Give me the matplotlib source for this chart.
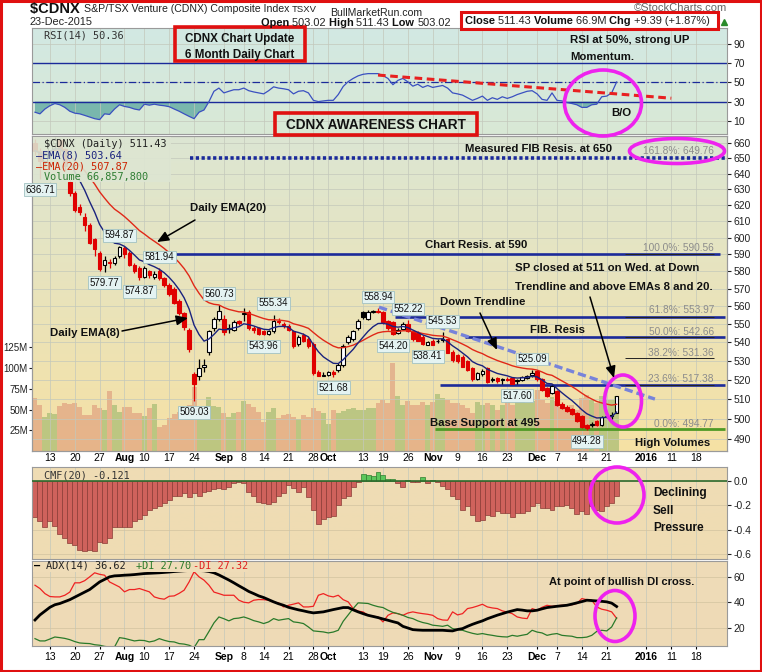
import matplotlib
matplotlib.use("Agg")
import matplotlib.pyplot as plt
from matplotlib.patches import Rectangle, Ellipse
from matplotlib.ticker import NullLocator, NullFormatter
from matplotlib.colors import to_rgb
import numpy as np
import pandas as pd

plt.rcParams['font.family'] = ['Liberation Sans', 'DejaVu Sans']

# ---------------- data ----------------
first_day = "2015-07-08"
cal_end = "2016-01-29"
holidays = ["2015-08-03", "2015-09-07", "2015-10-12", "2015-12-25", "2016-01-01"]

tick_dates = ["2015-07-13", "2015-07-20", "2015-07-27", "2015-08-04", "2015-08-10", "2015-08-17",
              "2015-08-24", "2015-09-01", "2015-09-08", "2015-09-14", "2015-09-21", "2015-09-28",
              "2015-10-01", "2015-10-13", "2015-10-19", "2015-10-26", "2015-11-02", "2015-11-09",
              "2015-11-16", "2015-11-23", "2015-12-01", "2015-12-07", "2015-12-14", "2015-12-21",
              "2016-01-04", "2016-01-11", "2016-01-18"]
tick_labels = ["13", "20", "27", "Aug", "10", "17", "24", "Sep", "8", "14", "21", "28", "Oct", "13",
               "19", "26", "Nov", "9", "16", "23", "Dec", "7", "14", "21", "2016", "11", "18"]
bold_labels = ["Aug", "Sep", "Oct", "Nov", "Dec", "2016"]

opens = [660, 655, 648, 652, 660, 662, 656, 635, 628, 619,
         613, 608, 599, 591, 583.5, 585.5, 585, 589, 594, 591,
         584, 582, 577, 580, 576.5, 580, 576, 572, 570, 563,
         556, 547, 523, 522, 527, 535, 548, 553, 553, 547.5,
         547, 551.5, 555.5, 557, 548, 548, 546, 544.5, 546, 552,
         550, 549, 546, 539, 544, 542, 539, 524, 522, 522.5,
         524, 525, 528, 540, 542, 548, 557, 553, 557, 557.5,
         557, 552, 551, 545, 547.5, 550, 546, 545, 543, 538.6,
         541, 540.5, 541.5, 542, 535, 533, 532, 530, 526, 520.5,
         523, 526, 520, 521, 520, 520.5, 521, 519.5, 520, 521,
         522.5, 524.5, 520.5, 515.5, 513, 514, 507.5, 506, 505, 503,
         501.5, 497, 497, 499, 497, 501.3, 501.5, 503.02]
highs = [663, 657, 654, 662, 664, 663, 657, 636, 629, 621,
         615, 609, 600, 592, 589, 587.5, 589, 594.87, 595, 592,
         585, 583, 583, 581, 580, 581.94, 577, 573, 571, 564,
         557, 548, 524, 531, 531, 546.5, 554, 560.73, 555, 550,
         552.5, 552.5, 559, 558, 549, 548.5, 547, 547, 555.34, 553.5,
         551, 550, 547, 544, 545, 543, 540, 525, 524, 524.5,
         525, 529, 539, 544, 547, 553, 557.5, 558, 558, 558.94,
         557.5, 552.5, 552, 548, 551, 552.22, 546.5, 546, 544, 541,
         542, 542, 545.53, 542.5, 536, 533.5, 533, 530.5, 526.5, 524,
         525.5, 526.5, 521.5, 521.5, 521, 521.5, 521.5, 520.5, 522, 522.5,
         525.09, 525, 521, 516, 517.5, 514.5, 508.5, 507, 505.5, 503.5,
         502, 497.5, 498.5, 499.5, 501.5, 502.5, 503.5, 511.43]
lows = [652, 636.71, 645, 650, 656, 652, 642, 626, 616, 614,
        604, 596, 589, 580.5, 579.77, 582, 583.5, 588, 588, 583,
        579, 574.87, 576, 576, 575.5, 575, 571, 566, 561, 555,
        547, 535, 509.03, 520, 524, 533, 546, 552, 544, 545,
        546, 549.5, 552, 547, 545, 544.1, 543.96, 544, 545, 550,
        548, 546, 537, 538, 540, 537, 522.5, 521.8, 522, 522,
        521.68, 524, 527, 539, 541, 547, 553, 552.5, 556, 556,
        550, 547, 544.20, 544.5, 547, 545.5, 541, 540.5, 538.5, 538.41,
        538.5, 539.5, 540, 534, 529.5, 529, 526.5, 524.5, 519.5, 520,
        522, 518.5, 519, 518.5, 518, 519.5, 518, 517.60, 519.5, 520.5,
        521.5, 519.5, 514, 511, 512.5, 506.5, 505, 503.5, 502, 498.5,
        495.5, 494.28, 496, 496.5, 496.5, 500.5, 500, 503.02]
closes = [655, 648, 652, 660, 662, 656, 645, 628, 617, 616,
          608, 597, 593, 581.5, 586.5, 585, 588, 594.5, 590, 584,
          580, 576.5, 582, 578, 578.5, 576, 572, 567, 562, 556,
          548.5, 536.5, 518, 526, 528, 546, 553, 557.5, 545.5, 548,
          551, 550.5, 556, 548, 546.5, 544.5, 544.3, 546, 552, 551,
          549, 547, 538, 543, 541, 538, 523.5, 522, 522.5, 524,
          523, 528, 538, 543, 546, 552, 554, 557, 557.5, 556.5,
          551, 548, 544.5, 547, 550, 546, 542, 541, 539, 540,
          538.8, 541, 542, 534.5, 530.5, 530, 527, 525, 520.5, 523.5,
          524.5, 519, 520.5, 519.5, 520.5, 520, 518, 520, 521.5, 522,
          523.8, 520.5, 514.5, 511.5, 517, 507, 505.5, 504, 502.5, 499,
          496, 495.5, 497.2, 497, 501, 501.5, 502.04, 511.43]
volume_m = [64, 55, 41, 46, 45, 54, 58, 57, 58, 53,
            43, 43, 55, 52, 50, 72, 55, 47, 53, 53,
            46, 46, 42, 52, 57, 29, 31, 40, 45, 47,
            48, 55, 77, 53, 53, 65, 54, 53, 46, 41,
            46, 47, 60, 57, 53, 47, 35, 47, 52, 40,
            43, 45, 41, 39, 43, 41, 52, 48, 46, 33,
            50, 46, 48, 51, 52, 50, 50, 52, 52, 58,
            61, 58, 106, 66, 55, 60, 55, 55, 59, 55,
            59, 69, 64, 62, 58, 58, 55, 52, 46, 59,
            55, 58, 55, 50, 55, 62, 55, 64, 65, 58,
            60, 74, 61, 58, 65, 60, 53, 52, 55, 50,
            64, 68, 61, 58, 66, 61, 62, 66.86]
rsi14 = [19, 17.3, 22.3, 25.7, 28, 26.7, 24, 20, 18, 17.3,
         15.7, 14, 12.3, 11.3, 17.3, 16.7, 22.3, 26.7, 25, 24,
         22.3, 21.3, 27.3, 26.3, 27.3, 26.3, 25.7, 24.7, 22.3, 20,
         17.3, 14.7, 12.3, 19, 21.3, 30, 40.7, 44, 39, 40.7,
         42.3, 42.3, 44, 41.3, 40, 39, 38, 41.3, 45.3, 44,
         43.3, 42.3, 38, 40.7, 41.3, 39, 31.3, 30, 30.7, 31.3,
         31.3, 37.3, 45.7, 50.7, 54, 56.7, 58.3, 59, 59, 59,
         57, 54, 47.5, 52, 54, 50.5, 46, 48, 44.7, 46.7,
         44.7, 45.7, 46.7, 44, 39, 38, 36.7, 34, 31.3, 33.3,
         35.7, 31.3, 34, 32.3, 35, 33.3, 35, 37.3, 39, 40.7,
         41.3, 38, 32.3, 31.3, 39, 31.3, 30.7, 29, 28, 26.7,
         24, 24, 26.7, 27.3, 35, 35.7, 39, 50.36]
cmf20 = [-0.30, -0.33, -0.38, -0.33, -0.37, -0.44, -0.47, -0.51, -0.53, -0.57,
         -0.58, -0.57, -0.58, -0.50, -0.51, -0.47, -0.38, -0.38, -0.38, -0.38,
         -0.33, -0.31, -0.28, -0.24, -0.22, -0.21, -0.18, -0.16, -0.12, -0.12,
         -0.10, -0.13, -0.10, -0.12, -0.09, -0.08, -0.07, -0.06, -0.07, -0.05,
         -0.02, -0.01, -0.02, -0.09, -0.12, -0.17, -0.18, -0.19, -0.17, -0.12,
         -0.10, -0.03, -0.06, -0.09, -0.05, -0.13, -0.24, -0.35, -0.31, -0.30,
         -0.29, -0.20, -0.14, -0.12, -0.05, -0.01, 0.06, 0.05, 0.04, 0.07,
         0.05, 0.02, 0.02, -0.02, -0.05, 0.01, -0.01, -0.01, 0.03, -0.02,
         0.01, -0.01, -0.04, -0.07, -0.12, -0.15, -0.24, -0.21, -0.28, -0.33,
         -0.32, -0.28, -0.29, -0.25, -0.26, -0.26, -0.30, -0.26, -0.26, -0.25,
         -0.21, -0.18, -0.22, -0.22, -0.24, -0.21, -0.21, -0.20, -0.22, -0.27,
         -0.25, -0.27, -0.21, -0.24, -0.25, -0.21, -0.18, -0.121]
adx14 = [26, 30, 33, 36, 38, 39, 40.5, 42, 44, 46,
         48, 50, 53, 56, 58, 60, 60.8, 61, 61.3, 61.5,
         61.8, 62.2, 62.6, 62.8, 63, 63.2, 63.5, 63.8, 64.2, 64.5,
         64.8, 65, 65, 65, 64.8, 64.2, 63.2, 61.5, 59.5, 57.5,
         55.3, 53, 50.8, 48.5, 46.8, 45, 43.7, 42, 40.3, 38.8,
         37.6, 36, 35, 34, 33.2, 32.3, 31.6, 32, 32.4, 33.3,
         34.2, 35, 35.8, 35.8, 34, 32.4, 31, 29.7, 28.8, 27.9,
         26.8, 25.8, 24.7, 23.7, 21, 19.7, 18.4, 18.1, 17.9, 17.9,
         17.9, 17.9, 17.9, 17.6, 17.4, 18.5, 19.2, 21, 22.6, 24,
         25.3, 27, 28.4, 29.8, 31, 32.2, 33.2, 34.2, 33.8, 33.2,
         33.2, 33.7, 34.8, 35.8, 36.3, 36.8, 37.2, 37.6, 38.5, 39.5,
         40.5, 41.6, 41.3, 41, 40.7, 40.3, 39.3, 36.62]
plus_di = [11.3, 9.5, 9.5, 11, 12.6, 12.1, 11.5, 10.5, 9, 7.9,
           7.6, 7.4, 6.5, 6.1, 5.2, 4.7, 4.7, 12.1, 11.5, 10.5,
           9.5, 10, 9.8, 8.7, 9.5, 11.3, 10, 9, 8.7, 7.4,
           7, 6.1, 4.2, 10.5, 10.5, 17, 23.7, 28.4, 27, 25.3,
           27.1, 27.5, 28.4, 27.1, 25.5, 24.5, 23.2, 24.5, 27.1, 25.8,
           26.5, 27.1, 24.5, 24, 23.2, 20.5, 17.4, 17, 16.6, 15.8,
           16.5, 17.9, 25, 30, 35, 39.5, 39.3, 39, 37.6, 36.5,
           35.8, 33.7, 32, 31, 29.7, 28, 27.1, 25.3, 24, 23.2,
           21.9, 21.5, 21, 21.9, 19.2, 18.5, 17.9, 16.6, 15.5, 14.7,
           15.3, 14.5, 13.9, 13.2, 12.8, 12.6, 13.9, 13.2, 14, 14.7,
           17.9, 16.5, 15.8, 13.9, 14.8, 15.3, 13.9, 13.5, 13.2, 12.1,
           12.1, 12.5, 13.9, 17, 17.9, 17.4, 20.5, 27.7]
minus_di = [53.4, 50.8, 46.8, 44.5, 44.2, 44.2, 45.5, 48, 55.3, 55.3,
            57, 60, 63.2, 62, 61.3, 56, 54, 52, 48.2, 50,
            50, 50.8, 49.5, 48.2, 44.2, 43, 42.4, 44.7, 45, 47,
            49.5, 56, 64, 60, 57.4, 53.4, 48, 46.8, 45.5, 45.5,
            45.5, 41.6, 40, 39.5, 41.6, 42.1, 42, 41.6, 40, 39.5,
            36.3, 37.6, 38.5, 39.5, 36.3, 36.3, 36.8, 45.5, 46.8, 45,
            44.2, 45.5, 42, 40.3, 35, 33, 32.4, 29.7, 29, 28.4,
            24.5, 29.7, 31.6, 31, 29.7, 31.5, 32.4, 31.6, 31, 30.5,
            29.7, 27.1, 26, 25.8, 32.4, 30, 31, 35, 35.8, 37,
            38.4, 36.3, 35.5, 35, 33.2, 32.2, 31, 28.4, 27.5, 27.1,
            35, 33.7, 36, 37.6, 36.8, 37.2, 37.6, 37.6, 38, 39,
            42.9, 42, 41.6, 36.3, 34.5, 33.7, 32.4, 27.32]

# price flags: (day index, 'H' high / 'L' low)
flag_days = [1, 17, 14, 21, 25, 37, 48, 46, 32, 60, 69, 75, 72, 82, 79, 100, 97, 111]
flag_kind = ['L', 'H', 'L', 'L', 'H', 'H', 'H', 'L', 'L', 'L', 'H', 'H', 'L', 'H', 'L', 'H', 'L', 'L']

fib_levels = [649.76, 590.56, 553.97, 542.66, 531.36, 517.38, 494.77]
fib_names = ["161.8%", "100.0%", "61.8%", "50.0%", "38.2%", "23.6%", "0.0%"]

# ---------------- figure ----------------
W, H = 762, 672
fig = plt.figure(figsize=(W / 100, H / 100), dpi=100)
fig.patch.set_facecolor('white')

days = pd.bdate_range(first_day, cal_end)
days = days[~days.isin(pd.to_datetime(holidays))]
day_pos = {d: i for i, d in enumerate(days)}
tick_pos = [day_pos[pd.Timestamp(d)] for d in tick_dates]

n = len(closes)
x = np.arange(n)
o, h, l, c = map(np.array, (opens, highs, lows, closes))
prev = np.r_[o[0], c[:-1]]
up = c >= prev

XL = (-0.6, 139.2)
GRID = '#c3c8bb'
SPINE = '#9a9a9a'
NAVY = '#1b2a9a'
MONO = 'DejaVu Sans Mono'


def panel(top, bottom):
    return fig.add_axes([32 / W, 1 - bottom / H, 695 / W, (bottom - top) / H])


def gradient(ax, top, bottom):
    t = np.linspace(0, 1, 200)[:, None, None]
    img = (1 - t) * np.array(to_rgb(top))[None, None, :] + t * np.array(to_rgb(bottom))[None, None, :]
    ax.imshow(img, extent=[0, 1, 0, 1], transform=ax.transAxes, aspect='auto',
              zorder=0, interpolation='bilinear')


def style(ax):
    for s in ax.spines.values():
        s.set_color(SPINE)
        s.set_linewidth(0.8)
    ax.set_xlim(*XL)
    ax.set_xticks(tick_pos)
    ax.grid(axis='x', color=GRID, lw=0.5)
    ax.tick_params(axis='y', labelsize=7.5, length=3, pad=1.5, colors='#222222')


# ---- RSI panel ----
ax_rsi = panel(28, 134)
gradient(ax_rsi, '#d2e8e3', '#d9e9d5')
style(ax_rsi)
ax_rsi.set_ylim(-3.6, 106.3)
ax_rsi.yaxis.tick_right()
ax_rsi.set_yticks([10, 30, 50, 70, 90])
ax_rsi.grid(axis='y', color=GRID, lw=0.5)
ax_rsi.tick_params(axis='x', labelbottom=False, length=0)
rsi = np.array(rsi14)
ax_rsi.fill_between(x, rsi, 30, where=rsi < 30, interpolate=True, color='#5aa79f', alpha=0.75, lw=0)
ax_rsi.axhline(70, color=NAVY, lw=1)
ax_rsi.axhline(30, color=NAVY, lw=1)
ax_rsi.axhline(50, color=NAVY, lw=0.9, ls=(0, (6, 2, 1, 2)))
ax_rsi.plot(x, rsi, color='#3a50c0', lw=0.9)
ax_rsi.plot([69, 128], [57.5, 33.5], color='#e82020', lw=2.2, ls=(0, (2.5, 1.5)))

# ---- price / volume panel ----
ax_vol = panel(136, 451)
ax_main = ax_vol.twinx()
gradient(ax_vol, '#dce6d3', '#f6e1a4')
style(ax_vol)
ax_vol.set_ylim(0, 380e6)
vol_cols = np.where(up, '#86ad5e', '#d98870')
ax_vol.bar(x, np.array(volume_m) * 1e6, width=1.0, color=vol_cols, alpha=0.5, lw=0, zorder=1)
ax_vol.set_yticks([25e6, 50e6, 75e6, 100e6, 125e6])
ax_vol.set_yticklabels(['25M', '50M', '75M', '100M', '125M'])
ax_vol.tick_params(axis='y', labelsize=7, pad=1, length=2)
ax_vol.set_xticklabels(tick_labels)
ax_vol.tick_params(axis='x', length=0, pad=1.5, labelsize=7.5)
for t in ax_vol.get_xticklabels():
    if t.get_text() in bold_labels:
        t.set_fontweight('bold')

ax_main.set_yscale('log')
ax_main.set_ylim(484.0, 664.8)
ax_main.set_xlim(*XL)
ax_main.set_yticks(list(range(490, 661, 10)))
ax_main.set_yticklabels([str(v) for v in range(490, 661, 10)])
ax_main.yaxis.set_minor_locator(NullLocator())
ax_main.yaxis.set_minor_formatter(NullFormatter())
ax_main.tick_params(axis='y', labelsize=7.5, length=3, pad=1.5, colors='#222222')
ax_main.set_axisbelow(True)
ax_main.grid(axis='y', color=GRID, lw=0.5)
for s in ax_main.spines.values():
    s.set_color(SPINE)

# candles
col = np.where(c < prev, '#e00000', '#000000')
face = np.where(c < o, col, 'white')
ax_main.vlines(x, l, h, colors=col, lw=0.9, zorder=3)
body_lo = np.minimum(o, c)
body_h = np.maximum(np.abs(c - o), 0.25)
ax_main.bar(x, body_h, bottom=body_lo, width=0.7, color=face, edgecolor=col, lw=0.8, zorder=4)

# EMAs from closes
ema8 = pd.Series(closes).ewm(span=8, adjust=False).mean()
ema20 = pd.Series(closes).ewm(span=20, adjust=False).mean()
ax_main.plot(x, ema20, color='#e02818', lw=1.0, zorder=5)
ax_main.plot(x, ema8, color='#1a237e', lw=1.0, zorder=5)

# resistance / support / fib lines
ax_main.hlines(650, 31.2, XL[1], colors=NAVY, lw=2.6, linestyles=(0, (0.9, 0.7)), zorder=2)
ax_main.hlines(590, 28.2, 137.8, colors=NAVY, lw=1.9, zorder=2)
ax_main.hlines(fib_levels[2], 72.4, 138.8, colors=NAVY, lw=1.9, zorder=2)
ax_main.hlines(fib_levels[3], 86.5, 138.8, colors=NAVY, lw=1.9, zorder=2)
ax_main.hlines(fib_levels[5], 81.5, 138.8, colors=NAVY, lw=1.9, zorder=2)
ax_main.hlines(495, 80.5, 138.8, colors='#4f9a25', lw=2.0, zorder=2)
ax_main.hlines(fib_levels[1:6], 118.7, 136.6, colors='#222222', lw=0.7, zorder=2)
ax_main.plot([69.2, 124.7], [559.5, 510], color='#7783da', lw=2.4, ls=(0, (2.5, 1.2)), zorder=6)

for i, k in zip(flag_days, flag_kind):
    v = h[i] if k == 'H' else l[i]
    ax_main.annotate(f"{v:.2f}", xy=(i, v), xytext=(0, 8 if k == 'H' else -8),
                     textcoords='offset points', ha='center', va='center', fontsize=7,
                     color='#111111', zorder=8,
                     bbox=dict(boxstyle='square,pad=0.15', fc='#e4f3f2', ec='#a2c2c2', lw=0.6))

# ---- CMF panel ----
ax_cmf = panel(467, 559)
gradient(ax_cmf, '#efddb5', '#efdcb3')
style(ax_cmf)
ax_cmf.set_ylim(-0.642, 0.115)
ax_cmf.yaxis.tick_right()
ax_cmf.set_yticks([0.0, -0.2, -0.4, -0.6])
ax_cmf.set_yticklabels(['0.0', '-0.2', '-0.4', '-0.6'])
ax_cmf.grid(axis='y', color='#d2c3a0', lw=0.5)
ax_cmf.tick_params(axis='x', labelbottom=False, length=0)
cmf = np.array(cmf20)
ax_cmf.bar(x, cmf, width=1.0, color=np.where(cmf >= 0, '#5cc75c', '#cf625c'),
           edgecolor=np.where(cmf >= 0, '#2f7d2f', '#8a3b36'), lw=0.5, zorder=2)
ax_cmf.axhline(0, color='#2d6a2d', lw=1.2, zorder=3)

# ---- ADX panel ----
ax_adx = panel(561, 646)
gradient(ax_adx, '#efdcb8', '#eedab6')
style(ax_adx)
ax_adx.set_ylim(5.5, 72.5)
ax_adx.yaxis.tick_right()
ax_adx.set_yticks([20, 40, 60])
ax_adx.grid(axis='y', color='#d2c3a0', lw=0.5)
ax_adx.set_xticklabels(tick_labels)
ax_adx.tick_params(axis='x', length=2, pad=2, labelsize=7.5)
for t in ax_adx.get_xticklabels():
    if t.get_text() in bold_labels:
        t.set_fontweight('bold')
ax_adx.plot(x, minus_di, color='#ee2222', lw=0.9)
ax_adx.plot(x, plus_di, color='#2a7a2a', lw=0.9)
ax_adx.plot(x, adx14, color='black', lw=2.0)

# ---------------- overlay in pixel coordinates ----------------
ov = fig.add_axes([0, 0, 1, 1])
ov.set_xlim(0, W)
ov.set_ylim(H, 0)
ov.axis('off')
ov.patch.set_visible(False)
ov.set_zorder(20)

B = dict(weight='bold', color='#111111')
FS = 8.2
renderer = fig.canvas.get_renderer()


def runs(x0, y0, parts, size=8):
    for s, bold, color in parts:
        t = ov.text(x0, y0, s, ha='left', va='center', fontsize=size,
                    weight='bold' if bold else 'normal', color=color)
        x0 += t.get_window_extent(renderer=renderer).width
    return x0


# header
x_end = runs(30, 9, [("$CDNX ", True, '#111')], size=10.5)
x_end = runs(x_end, 9, [("S&P/TSX Venture (CDNX) Composite Index ", False, '#222')], size=7.6)
runs(x_end, 9.5, [("TSXV", False, '#222')], size=6.8)
ov.text(727, 8, "\u00a9StockCharts.com", fontsize=8, ha='right', va='center', color='#666')
ov.text(330, 12.5, "BullMarketRun.com", fontsize=7.6, va='center', color='#222')
ov.text(30, 22, "23-Dec-2015", fontsize=7.8, va='center', color='#222')
runs(261, 22.5, [("Open ", True, '#111'), (f"{o[-1]:.2f} ", False, '#222'),
                 ("High ", True, '#111'), (f"{h[-1]:.2f} ", False, '#222'),
                 ("Low ", True, '#111'), (f"{l[-1]:.2f}", False, '#222')], size=7.9)
chg = c[-1] - c[-2]
runs(465, 21, [("Close ", True, '#111'), (f"{c[-1]:.2f} ", False, '#222'),
               ("Volume ", True, '#111'), (f"{volume_m[-1]:.1f}M ", False, '#222'),
               ("Chg ", True, '#111'), (f"+{chg:.2f} (+{chg / c[-2] * 100:.2f}%)", False, '#222')],
     size=7.9)
ov.add_patch(Rectangle((461, 12), 257, 17, fill=False, ec='#e01010', lw=2.2))
ov.plot([724], [22], marker='^', color='#2a8a2a', ms=4)

# panel legends
ov.text(44, 35, "RSI(14) 50.36", family=MONO, fontsize=7.4, va='center', color='#333')
ov.add_patch(Rectangle((33, 137), 138, 45, fc='#dde6d2', ec='none', alpha=0.9))
ov.text(44, 144, "$CDNX (Daily) 511.43", family=MONO, fontsize=7.4, va='center', color='#222')
ov.text(36, 155.5, "\u2014EMA(8) 503.64", family=MONO, fontsize=7.4, va='center', color='#1a237e')
ov.text(36, 166.5, "\u2014EMA(20) 507.87", family=MONO, fontsize=7.4, va='center', color='#cc2200')
ov.text(44, 177, "Volume 66,857,800", family=MONO, fontsize=7.4, va='center', color='#2e7d32')
ov.text(44, 475, "CMF(20) -0.121", family=MONO, fontsize=7.4, va='center', color='#333')
ov.add_patch(Rectangle((33, 562), 215, 10, fc='#efdcb8', ec='none'))
ov.text(34, 566, "\u2014", family=MONO, fontsize=7.4, va='center', color='black', weight='bold')
ov.text(46, 566, "ADX(14) 36.62", family=MONO, fontsize=7.4, va='center', color='#222')
ov.text(136, 566, "+DI 27.70", family=MONO, fontsize=7.4, va='center', color='#2a7a2a')
ov.text(193, 566, "-DI 27.32", family=MONO, fontsize=7.4, va='center', color='#e02020')

# RSI notes
ov.add_patch(Rectangle((175, 27), 130, 34, fill=False, ec='#e01010', lw=2.6))
ov.text(240, 39, "CDNX Chart Update", fontsize=8.4, ha='center', va='center', **B)
ov.text(240, 55, "6 Month Daily Chart", fontsize=8.4, ha='center', va='center', **B)
ov.add_patch(Rectangle((275, 113), 202, 22, fill=False, ec='#e01010', lw=2.6))
ov.text(376, 125, "CDNX AWARENESS CHART", fontsize=9.8, ha='center', va='center', **B)
ov.text(570, 40, "RSI at 50%, strong UP", fontsize=FS, va='center', **B)
ov.text(570, 57, "Momentum.", fontsize=FS, va='center', **B)
ov.text(611, 113, "B/O", fontsize=FS, va='center', **B)
ov.add_patch(Ellipse((603, 103), 77, 66, fill=False, ec='#ee22ee', lw=2.6))

# main panel notes
ov.text(465, 149, "Measured FIB Resis. at 650", fontsize=FS, va='center', **B)
ov.text(425, 245, "Chart Resis. at 590", fontsize=FS, va='center', **B)
ov.text(515, 268, "SP closed at 511 on Wed. at Down", fontsize=FS, va='center', **B)
ov.text(515, 287, "Trendline and above EMAs 8 and 20.", fontsize=FS, va='center', **B)
ov.text(440, 302, "Down Trendline", fontsize=FS, va='center', **B)
ov.text(530, 330, "FIB. Resis", fontsize=FS, va='center', **B)
ov.text(430, 423, "Base Support at 495", fontsize=FS, va='center', **B)
ov.text(635, 443, "High Volumes", fontsize=FS, va='center', **B)
ov.text(190, 208, "Daily EMA(20)", fontsize=FS, va='center', **B)
ov.text(50, 333, "Daily EMA(8)", fontsize=FS, va='center', **B)
fib_y = [151, 248, 310, 332, 353, 379, 424]
for lvl, name, yy in zip(fib_levels, fib_names, fib_y):
    ov.text(714, yy, f"{name}: {lvl:.2f}", fontsize=7.3, ha='right', va='center', color='#8c8c8c')
ov.add_patch(Ellipse((677, 151), 95, 25, fill=False, ec='#ee22ee', lw=2.6))
ov.add_patch(Ellipse((623, 401), 37, 52, fill=False, ec='#ee22ee', lw=2.6))

arrow = dict(arrowstyle='-|>,head_length=0.7,head_width=0.3', color='black', lw=1.1, shrinkA=0, shrinkB=0)
ov.annotate('', xy=(157, 242), xytext=(195, 220), arrowprops=arrow)
ov.annotate('', xy=(188, 318), xytext=(122, 331), arrowprops=arrow)
ov.annotate('', xy=(497, 350), xytext=(480, 313), arrowprops=arrow)
ov.annotate('', xy=(614, 378), xytext=(590, 297), arrowprops=arrow)

# CMF / ADX notes
ov.text(653, 493, "Declining", fontsize=8.6, va='center', **B)
ov.text(653, 511, "Sell", fontsize=8.6, va='center', **B)
ov.text(653, 528, "Pressure", fontsize=8.6, va='center', **B)
ov.add_patch(Ellipse((617, 495), 54, 56, fill=False, ec='#ee22ee', lw=2.6))
ov.text(549, 582, "At point of bullish DI cross.", fontsize=8.0, va='center', **B)
ov.add_patch(Ellipse((615, 616), 40, 51, fill=False, ec='#ee22ee', lw=2.6))

# red frame
ov.add_patch(Rectangle((1, 1), W - 2, H - 2, fill=False, ec='#e01010', lw=2.2))

fig.savefig('out.png', dpi=100)
